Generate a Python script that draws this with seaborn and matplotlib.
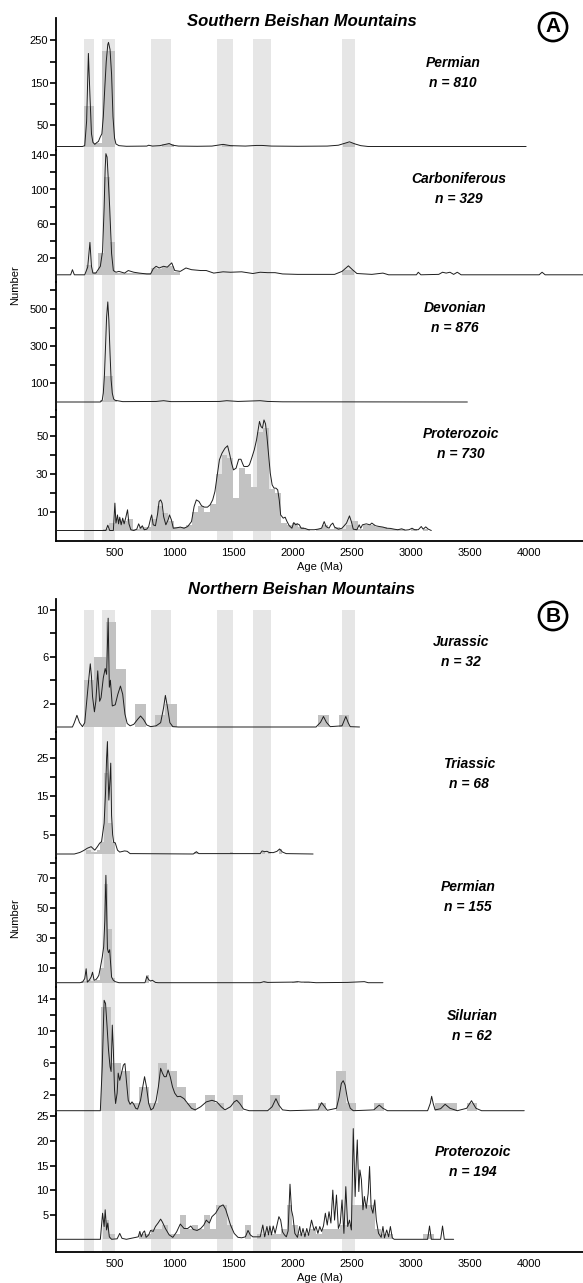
import numpy as np
import pandas as pd
import matplotlib
matplotlib.use("Agg")
import matplotlib.pyplot as plt
import seaborn as sns

# ---------------- data (ages in Ma) ----------------
bands = [(240, 320), (390, 500), (800, 970), (1365, 1500), (1665, 1820), (2420, 2530)]
x_ticks = [500, 1000, 1500, 2000, 2500, 3000, 3500, 4000]

# Southern Beishan - Permian (n = 810)
s_perm_kde = [(0, 0), (224, 0), (243, 2), (259, 60), (274, 219), (287, 120), (300, 30), (312, 10),
              (328, 5), (344, 9), (359, 12), (375, 23), (388, 30), (400, 70), (413, 140), (425, 200),
              (438, 240), (444, 245), (457, 228), (470, 170), (482, 70), (495, 20), (507, 6), (532, 2),
              (595, 0.5), (768, 1), (784, 3), (815, 1), (878, 2), (925, 5), (957, 7), (988, 3),
              (1036, 1), (1193, 0.5), (1319, 1), (1413, 5), (1476, 2), (1602, 1), (1696, 2.5),
              (1743, 2.5), (1822, 1), (2042, 0.5), (2294, 1), (2388, 3), (2482, 11), (2529, 6),
              (2577, 2), (2640, 0), (3976, 0)]
s_perm_edges = [240, 320, 390, 495, 900, 1000, 1400, 1500, 2430, 2530]
s_perm_counts = [95, 8, 224, 0, 5, 0, 3, 0, 8]
s_perm_ticks = [50, 100, 150, 200, 250]
s_perm_labels = ["50", "", "150", "", "250"]

# Southern Beishan - Carboniferous (n = 329)
s_carb_kde = [(0, 0), (124, 0), (139, 6), (155, 0), (243, 0), (268, 9), (287, 38), (300, 10),
              (312, 2), (337, 2), (356, 6), (375, 10), (394, 28), (407, 79), (416, 125), (422, 142),
              (432, 138), (441, 115), (454, 79), (470, 25), (485, 5), (507, 3), (532, 4), (580, 2),
              (611, 5), (658, 3), (705, 2), (768, 1), (800, 1), (822, 7), (847, 10), (872, 8),
              (910, 10), (941, 9), (979, 14), (1004, 5), (1051, 4), (1099, 8), (1146, 6), (1224, 5),
              (1271, 5), (1334, 2), (1413, 3.5), (1476, 3), (1570, 3.5), (1665, 1.5), (1727, 3),
              (1790, 2.5), (1853, 2.5), (1916, 1), (2042, 0.5), (2356, 0.5), (2419, 4), (2473, 10.5),
              (2507, 6), (2545, 1.5), (2671, 0.5), (2765, 2), (2813, 0), (3048, 0), (3064, 3),
              (3086, 0), (3237, 0.5), (3269, 3), (3300, 2), (3332, 3), (3363, 0.5), (3394, 3),
              (3426, 0), (4086, 0), (4111, 3), (4137, 0), (4457, 0)]
s_carb_edges = [255, 305, 355, 405, 455, 500, 800, 850, 900, 950, 1000, 1050, 2420, 2520]
s_carb_counts = [12, 3, 25, 115, 38, 2, 8, 7, 9, 10, 3, 0, 6]
s_carb_ticks = [20, 40, 60, 80, 100, 120, 140]
s_carb_labels = ["20", "", "60", "", "100", "", "140"]

# Southern Beishan - Devonian (n = 876)
s_dev_kde = [(0, 0), (375, 0), (391, 10), (400, 48), (410, 150), (419, 300), (428, 458), (438, 538),
             (447, 440), (457, 260), (466, 120), (476, 48), (488, 15), (501, 9), (564, 2), (847, 3),
             (910, 7), (973, 2), (1382, 3), (1444, 7), (1539, 3), (1727, 7), (1790, 3), (1916, 1),
             (3479, 0)]
s_dev_edges = [370, 405, 485, 520]
s_dev_counts = [10, 141, 10]
s_dev_ticks = [100, 200, 300, 400, 500, 600]
s_dev_labels = ["100", "", "300", "", "500", ""]

# Southern Beishan - Proterozoic (n = 730)
s_prot_kde = [(0, 0), (422, 0), (438, 2.8), (454, 0), (485, 0), (498, 14.4), (507, 3.9), (520, 8.2),
              (529, 3.5), (539, 7.0), (551, 3.0), (564, 6.5), (576, 3.5), (589, 6.5), (605, 10.9),
              (617, 3.5), (633, 0.4), (658, 0), (683, 0.7), (699, 3.5), (715, 1.2), (730, 2.5),
              (746, 0.4), (768, 0.7), (784, 2.1), (800, 6.3), (809, 8.2), (822, 3.0), (841, 2.5),
              (860, 9.1), (872, 15.3), (885, 16.1), (897, 14.4), (910, 7.4), (929, 3.0), (948, 5.6),
              (960, 8.2), (976, 5.6), (992, 1.2), (1020, 1.4), (1051, 1.8), (1083, 1.2), (1114, 2.1),
              (1146, 4.7), (1168, 12.6), (1187, 16.1), (1209, 15.3), (1231, 13.0), (1256, 12.3),
              (1281, 12.3), (1303, 13.5), (1325, 16.1), (1344, 20.5), (1366, 30.2), (1382, 37.2),
              (1404, 40.7), (1429, 43.3), (1451, 44.6), (1470, 39.8), (1485, 35.4), (1501, 31.9),
              (1523, 32.8), (1545, 37.5), (1564, 37.5), (1577, 35.4), (1589, 33.7), (1605, 33.7),
              (1621, 33.7), (1636, 34.6), (1655, 38.1), (1677, 42.5), (1696, 47.7), (1712, 53.9),
              (1721, 57.4), (1734, 54.7), (1746, 53.9), (1759, 58.2), (1772, 56.1), (1784, 49.5),
              (1797, 40.7), (1812, 30.2), (1828, 24.0), (1844, 22.3), (1860, 22.3), (1875, 21.4),
              (1888, 16.1), (1900, 8.2), (1922, 6.5), (1938, 7.0), (1954, 4.7), (1973, 2.5),
              (1995, 1.2), (2011, 4.2), (2026, 3.0), (2042, 3.5), (2058, 3.0), (2073, 1.2),
              (2105, 1.1), (2136, 0.4), (2184, 0.4), (2215, 0.7), (2246, 1.2), (2268, 4.7),
              (2284, 2.1), (2309, 1.2), (2325, 3.0), (2341, 3.9), (2356, 1.8), (2388, 0.7),
              (2419, 1.2), (2457, 3.9), (2482, 7.7), (2498, 4.7), (2514, 0.7), (2545, 0.4),
              (2564, 3.0), (2577, 1.2), (2592, 3.0), (2624, 3.5), (2655, 3.0), (2671, 3.9),
              (2702, 2.5), (2734, 2.1), (2765, 1.8), (2797, 1.2), (2828, 1.1), (2860, 0.7),
              (2891, 0.4), (2923, 0.9), (2954, 0.2), (2986, 0.4), (3011, 1.2), (3033, 0.4),
              (3064, 0.4), (3089, 2.1), (3105, 0.7), (3127, 1.9), (3149, 0.7), (3174, 0)]
s_prot_edges = list(range(400, 3250, 50))
s_prot_counts = [1, 4, 6, 5, 6, 1, 2, 2, 6, 13, 9, 5, 2, 2, 3, 10, 13, 10, 14, 30,
                 40, 38, 17, 33, 30, 23, 52, 54, 22, 20, 4, 3, 4, 2, 1, 0, 1, 3, 1, 2,
                 1, 3, 5, 1, 3, 3, 2, 2, 1, 1, 1, 0, 1, 0, 1, 0]
s_prot_ticks = [10, 20, 30, 40, 50, 60]
s_prot_labels = ["10", "", "30", "", "50", ""]

# Northern Beishan - Jurassic (n = 32)
n_jur_kde = [(0, 0), (139, 0), (155, 0.37), (177, 1.0), (199, 0.37), (224, 0.03), (243, 0.37),
             (268, 3.1), (281, 4.5), (290, 5.4), (300, 4.3), (309, 2.6), (325, 1.3), (337, 2.2),
             (353, 4.8), (369, 2.2), (381, 2.5), (400, 4.2), (416, 5.0), (428, 4.5), (441, 9.3),
             (451, 3.4), (460, 4.0), (476, 1.8), (501, 1.9), (523, 2.8), (545, 3.5), (564, 2.8),
             (583, 1.1), (602, 0.3), (627, 0.1), (658, 0.23), (690, 0.65), (715, 0.94), (740, 0.65),
             (768, 0.17), (800, 0.03), (847, 0.1), (885, 0.37), (910, 1.65), (925, 2.7), (941, 1.8),
             (963, 0.37), (988, 0.03), (1036, 0), (2199, 0), (2237, 0.4), (2262, 0.9), (2287, 0.4),
             (2319, 0.03), (2419, 0.1), (2435, 0.5), (2451, 0.9), (2470, 0.4), (2488, 0.03),
             (2567, 0)]
n_jur_edges = [237, 322, 423, 507, 589, 668, 761, 838, 926, 1024, 2215, 2308, 2393, 2481]
n_jur_counts = [4, 6, 9, 5, 0, 2, 0, 1, 2, 0, 1, 0, 1]
n_jur_ticks = [2, 4, 6, 8, 10]
n_jur_labels = ["2", "", "6", "", "10"]

# Northern Beishan - Triassic (n = 68)
n_tri_kde = [(0, 0), (155, 0), (202, 0.4), (234, 0.9), (265, 1.5), (297, 1.9), (328, 1.0), (350, 1.9),
             (369, 2.8), (385, 3.2), (407, 8.0), (419, 16), (428, 25), (435, 29.2), (441, 20),
             (447, 14), (454, 18), (463, 23.6), (470, 10), (479, 5), (488, 3.0), (501, 2.9),
             (520, 1.0), (539, 0.5), (580, 0.8), (602, 0.7), (627, 0.1), (658, 0.1), (1161, 0),
             (1187, 0.6), (1208, 0.1), (1727, 0.1), (1743, 0.8), (1765, 0.6), (1784, 0.7),
             (1803, 0.4), (1837, 0.35), (1869, 0.7), (1891, 1.3), (1916, 0.5), (1947, 0.1),
             (2174, 0)]
n_tri_edges = [250, 300, 345, 375, 405, 440, 470, 500, 1170, 1200, 1470, 1500, 1740, 1770, 1790,
               1815, 1890, 1915]
n_tri_counts = [1, 0.5, 1, 3, 21, 8, 3, 0, 0.6, 0, 0.6, 0, 0.6, 0, 0.6, 0, 1.2]
n_tri_ticks = [5, 10, 15, 20, 25, 30]
n_tri_labels = ["5", "", "15", "", "25", ""]

# Northern Beishan - Permian (n = 155)
n_perm_kde = [(0, 0), (202, 0), (224, 0.4), (243, 2.7), (255, 9.3), (265, 0.4), (281, 1.6),
              (297, 3.8), (309, 7), (322, 1.6), (337, 2), (350, 3.3), (362, 4.9), (375, 10),
              (391, 17), (403, 23.8), (413, 41.5), (422, 71.6), (428, 50), (435, 22.7), (444, 20),
              (454, 22), (460, 15), (470, 3.8), (485, 1.6), (501, 0.7), (532, 0), (753, 0),
              (768, 4.2), (784, 2), (800, 1.1), (815, 1.6), (841, 0.2), (863, 0), (1727, 0),
              (1759, 0.7), (1790, 0.2), (2010, 0.4), (2042, 0.7), (2074, 0.4), (2136, 0.4),
              (2199, 0), (2466, 0.2), (2608, 0.7), (2640, 0), (2765, 0)]
n_perm_edges = [215, 260, 300, 340, 375, 405, 440, 470, 500, 760, 790, 1760, 1800, 2000, 2050,
                2100, 2150]
n_perm_counts = [1, 2, 1, 2, 10, 66, 36, 3, 0, 5, 0, 0.7, 0, 0.7, 0, 0.7]
n_perm_ticks = [10, 20, 30, 40, 50, 60, 70, 80]
n_perm_labels = ["10", "", "30", "", "50", "", "70", ""]

# Northern Beishan - Silurian (n = 62)
n_sil_kde = [(0, 0), (375, 0), (391, 5.5), (407, 13.8), (419, 13.4), (432, 10.5), (444, 7.6),
             (457, 5.5), (466, 4.9), (476, 10.7), (485, 7.6), (495, 2.6), (504, 0.9), (517, 2.2),
             (526, 4.7), (539, 3.8), (554, 4.7), (570, 5.7), (583, 5.9), (595, 3.8), (611, 1.3),
             (627, 0.8), (643, 1.1), (658, 0.8), (674, 0.3), (690, 0.2), (715, 1.3), (734, 3.0),
             (749, 4.25), (765, 3.0), (784, 0.9), (803, 0.1), (822, 0.3), (847, 1.3), (866, 3.0),
             (885, 5.3), (900, 4.7), (916, 4.25), (932, 4.25), (948, 5.1), (966, 4.25), (985, 3.0),
             (1004, 2.2), (1026, 1.75), (1051, 1.8), (1083, 1.5), (1114, 0.9), (1146, 0.3),
             (1177, 0.1), (1224, 0.5), (1271, 1.1), (1319, 1.3), (1360, 1.1), (1397, 0.5),
             (1429, 0.1), (1476, 0.5), (1507, 1.1), (1529, 1.3), (1554, 0.9), (1586, 0.2),
             (1633, 0), (1790, 0), (1828, 0.5), (1860, 1.5), (1885, 0.7), (1916, 0.1), (1979, 0),
             (2215, 0.1), (2246, 1.0), (2272, 0.5), (2294, 0.05), (2372, 0.3), (2394, 1.7),
             (2413, 3.4), (2429, 3.75), (2445, 3.2), (2467, 1.3), (2489, 0.3), (2514, 0),
             (2687, 0.1), (2734, 0.7), (2765, 0.3), (2803, 0), (3143, 0), (3165, 0.9), (3177, 1.8),
             (3190, 0.9), (3206, 0.1), (3253, 0.25), (3291, 0.8), (3332, 0.3), (3394, 0),
             (3473, 0.3), (3514, 1.25), (3552, 0.3), (3599, 0), (3960, 0)]
n_sil_edges = [381, 463, 548, 627, 705, 784, 863, 941, 1020, 1099, 1183, 1256, 1344, 1419, 1498,
               1583, 1813, 1894, 2215, 2287, 2372, 2451, 2536, 2687, 2772, 3206, 3300, 3394, 3473,
               3560]
n_sil_counts = [13, 6, 5, 1, 3, 1, 6, 5, 3, 1, 0, 2, 1, 0, 2, 0, 2, 0, 1, 0, 5, 1, 0, 1, 0, 1, 1,
                0, 1]
n_sil_ticks = [2, 4, 6, 8, 10, 12, 14]
n_sil_labels = ["2", "", "6", "", "10", "", "14"]

# Northern Beishan - Proterozoic (n = 194)
n_prot_kde = [(0, 0), (375, 0), (394, 5.3), (407, 2.6), (416, 6.0), (428, 1.9), (438, 3.3), (451, 0.5),
              (470, 0), (517, 0.1), (539, 1.2), (558, 0.2), (595, 0), (696, 0.5), (709, 1.6),
              (721, 0.5), (737, 1.4), (749, 1.7), (762, 0.4), (784, 0.9), (800, 1.8), (822, 1.6),
              (841, 2.6), (863, 3.3), (885, 4.1), (900, 3.5), (925, 2.2), (957, 0.9), (988, 0.4),
              (1020, 1.5), (1051, 3.1), (1083, 2.2), (1114, 2.2), (1140, 2.7), (1161, 2.0),
              (1193, 1.8), (1224, 2.2), (1250, 2.9), (1271, 3.9), (1297, 3.3), (1319, 4.6),
              (1350, 5.3), (1382, 6.6), (1413, 7.0), (1435, 6.1), (1454, 4.6), (1476, 2.9),
              (1507, 1.2), (1539, 0.4), (1570, 0.3), (1602, 0.5), (1624, 1.8), (1643, 0.9),
              (1665, 0.5), (1727, 0.5), (1749, 2.9), (1765, 0.5), (1784, 2.6), (1797, 0.9),
              (1809, 2.7), (1822, 0.9), (1837, 2.7), (1853, 1.2), (1869, 2.9), (1885, 4.6),
              (1900, 3.9), (1916, 1.5), (1932, 0.9), (1948, 0.5), (1963, 1.7), (1979, 11.2),
              (1992, 5.9), (2004, 4.6), (2020, 1.2), (2042, 0.4), (2061, 2.6), (2074, 0.7),
              (2089, 2.2), (2105, 0.5), (2121, 2.2), (2136, 0.8), (2161, 3.9), (2183, 1.8),
              (2199, 2.6), (2215, 1.2), (2231, 2.6), (2246, 1.6), (2262, 2.7), (2278, 5.3),
              (2294, 2.9), (2309, 5.6), (2325, 3.3), (2341, 10.0), (2356, 3.9), (2372, 9.0),
              (2388, 2.2), (2404, 3.3), (2419, 8.0), (2435, 1.2), (2451, 10.7), (2467, 2.6),
              (2482, 3.9), (2498, 1.9), (2514, 22.5), (2530, 8.7), (2539, 15.4), (2548, 20.2),
              (2561, 9.7), (2570, 14.1), (2583, 12.1), (2596, 6.0), (2608, 8.7), (2624, 6.3),
              (2640, 9.3), (2652, 14.8), (2665, 6.6), (2680, 5.3), (2696, 8.0), (2709, 3.9),
              (2728, 1.2), (2750, 0.4), (2765, 2.6), (2778, 0.3), (2797, 1.9), (2813, 0.5),
              (2828, 2.6), (2844, 0.3), (2860, 0), (3143, 0), (3159, 2.7), (3174, 0), (3253, 0),
              (3269, 2.7), (3284, 0), (3363, 0)]
n_prot_edges = list(range(400, 3250, 50))
n_prot_counts = [4, 1, 0, 0, 0, 0, 1, 1, 2, 2, 3, 1, 1, 5, 2, 3, 2, 5, 2, 7,
                 7, 3, 0, 0, 3, 0, 1, 1, 1, 1, 2, 7, 3, 1, 1, 2, 1, 2, 2, 2,
                 3, 3, 7, 7, 7, 7, 2, 1, 1, 0, 0, 0, 0, 0, 1, 1]
n_prot_ticks = [5, 10, 15, 20, 25]
n_prot_labels = ["5", "10", "15", "20", "25"]

# ---------------- style ----------------
sns.set_theme(style="white")
plt.rcParams["font.family"] = ["Liberation Sans", "DejaVu Sans"]
plt.rcParams["text.color"] = "black"
plt.rcParams["axes.labelcolor"] = "black"
plt.rcParams["xtick.color"] = "black"
plt.rcParams["ytick.color"] = "black"

W, H = 583, 1283
X0 = 56
XMAX = 4457
BAND = "#e6e6e6"
BAR = "#c2c2c2"
LINE = "#1e1e1e"

fig = plt.figure(figsize=(W / 100, H / 100), dpi=100)

# pixel layout: (kde, edges, counts, ticks, labels, name, n, top, bottom, zero, px per unit, text x, text y)
groups = [
    dict(title="Southern Beishan Mountains", title_y=21, letter="A", letter_y=27, band_top=39,
         ylab_y=285, panels=[
             (s_perm_kde, s_perm_edges, s_perm_counts, s_perm_ticks, s_perm_labels, "Permian", "810",
              18, 150, 146.5, 0.425, 453, 63),
             (s_carb_kde, s_carb_edges, s_carb_counts, s_carb_ticks, s_carb_labels, "Carboniferous", "329",
              150, 282, 274.8, 0.853, 459, 179),
             (s_dev_kde, s_dev_edges, s_dev_counts, s_dev_ticks, s_dev_labels, "Devonian", "876",
              282, 410, 402.0, 0.186, 455, 308),
             (s_prot_kde, s_prot_edges, s_prot_counts, s_prot_ticks, s_prot_labels, "Proterozoic", "730",
              410, 541, 530.5, 1.9, 461, 434),
         ]),
    dict(title="Northern Beishan Mountains", title_y=590, letter="B", letter_y=616, band_top=610,
         ylab_y=918, panels=[
             (n_jur_kde, n_jur_edges, n_jur_counts, n_jur_ticks, n_jur_labels, "Jurassic", "32",
              599, 732, 727, 11.7, 461, 642),
             (n_tri_kde, n_tri_edges, n_tri_counts, n_tri_ticks, n_tri_labels, "Triassic", "68",
              732, 858, 854, 3.85, 469, 764),
             (n_perm_kde, n_perm_edges, n_perm_counts, n_perm_ticks, n_perm_labels, "Permian", "155",
              858, 987, 982.7, 1.5, 468, 887),
             (n_sil_kde, n_sil_edges, n_sil_counts, n_sil_ticks, n_sil_labels, "Silurian", "62",
              987, 1114, 1110.7, 8.0, 472, 1016),
             (n_prot_kde, n_prot_edges, n_prot_counts, n_prot_ticks, n_prot_labels, "Proterozoic", "194",
              1114, 1252, 1239.3, 4.92, 473, 1152),
         ]),
]


def fx(px):
    return px / W


def fy(py):
    return 1 - py / H


for g in groups:
    panels = g["panels"]
    for i, (kde, edges, counts, ticks, labels, name, n, top, bottom, zero, ppu, tx, ty) in enumerate(panels):
        ax = fig.add_axes([fx(X0), fy(bottom), fx(W - X0), (bottom - top) / H])
        ax.patch.set_alpha(0)
        ymax = 1.0
        if i == 0:
            ymax = (bottom - g["band_top"]) / (bottom - top)
        for lo, hi in bands:
            ax.axvspan(lo, hi, ymin=0, ymax=ymax, color=BAND, lw=0, zorder=0)

        hist_df = pd.DataFrame({"mid": [(a + b) / 2 for a, b in zip(edges[:-1], edges[1:])],
                                "count": counts})
        sns.histplot(data=hist_df, x="mid", weights="count", bins=list(edges), ax=ax,
                     color=BAR, alpha=1, linewidth=0, zorder=1)

        kde_df = pd.DataFrame(kde, columns=["age", "dens"])
        sns.lineplot(data=kde_df, x="age", y="dens", ax=ax, color=LINE, lw=0.7,
                     estimator=None, sort=False, legend=False, zorder=3)

        ax.set_xlim(0, XMAX)
        ax.set_ylim((zero - bottom) / ppu, (zero - top) / ppu)
        ax.set_ylabel("")
        ax.set_xlabel("")
        ax.set_yticks(ticks)
        ax.set_yticklabels(labels)
        ax.tick_params(axis="y", direction="out", length=4, width=1.2, color="black",
                       labelcolor="black", labelsize=8, pad=1.5, left=True)
        for side in ["top", "right"]:
            ax.spines[side].set_visible(False)
        ax.spines["left"].set_linewidth(1.3)
        ax.spines["left"].set_color("black")

        last = i == len(panels) - 1
        if last:
            ax.spines["bottom"].set_linewidth(1.3)
            ax.spines["bottom"].set_color("black")
            ax.set_xticks(x_ticks)
            ax.set_xticklabels([str(t) for t in x_ticks])
            ax.tick_params(axis="x", direction="out", length=0, labelsize=8, labelcolor="black",
                           pad=5, bottom=True)
            ax.set_xlabel("Age (Ma)", fontsize=8, labelpad=3, color="black")
        else:
            ax.spines["bottom"].set_visible(False)
            ax.tick_params(axis="x", bottom=False, labelbottom=False)

        fig.text(fx(tx), fy(ty), name, ha="center", va="center", fontsize=10,
                 fontweight="bold", style="italic", color="black")
        fig.text(fx(tx), fy(ty + 20), "n = " + n, ha="center", va="center", fontsize=10,
                 fontweight="bold", style="italic", color="black")

    fig.text(fx(302), fy(g["title_y"]), g["title"], ha="center", va="center", fontsize=12,
             fontweight="bold", style="italic", color="black")
    fig.text(fx(553), fy(g["letter_y"]), g["letter"], ha="center", va="center", fontsize=15,
             fontweight="bold", color="black",
             bbox=dict(boxstyle="circle,pad=0.22", fc="white", ec="black", lw=1.9))
    fig.text(fx(15), fy(g["ylab_y"]), "Number", rotation=90, ha="center", va="center",
             fontsize=8, color="black")

fig.savefig("out.png", dpi=100)
